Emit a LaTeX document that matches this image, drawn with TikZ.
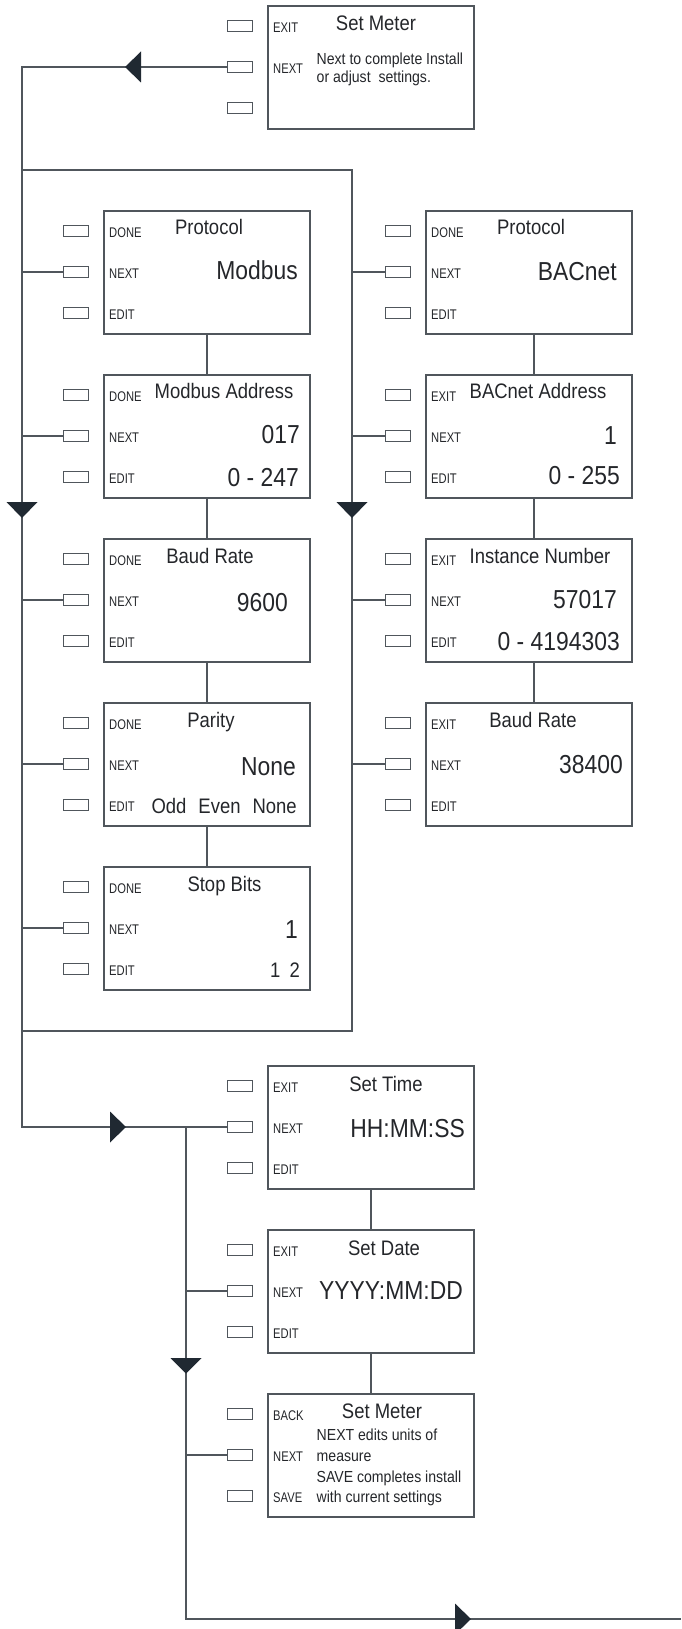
\documentclass[tikz,border=0pt]{standalone}
\usepackage{fontspec}
\setmainfont{Liberation Sans}[FakeStretch=0.88]
\newfontfamily\keyfont{Liberation Sans}[FakeStretch=0.8]
\usetikzlibrary{calc}

\definecolor{linegray}{RGB}{80,86,92}
\definecolor{arrowfill}{RGB}{32,41,50}
\definecolor{inkgray}{RGB}{36,38,42}

\tikzset{
  screen/.style={draw=linegray, line width=1.3pt, minimum width=206pt, minimum height=123pt, inner sep=0pt, outer sep=0pt},
  button/.style={draw=linegray, line width=1pt, minimum width=25pt, minimum height=11pt, inner sep=0pt, outer sep=0pt},
  keylabel/.style={anchor=base west, inner sep=0pt, text=inkgray, font=\keyfont\fontsize{14}{16}\selectfont},
  screentitle/.style={anchor=base, inner sep=0pt, text=inkgray, font=\fontsize{21}{25}\selectfont},
  bigvalue/.style={anchor=base east, inner sep=0pt, text=inkgray, font=\fontsize{26}{30}\selectfont},
  rangevalue/.style={anchor=base east, inner sep=0pt, text=inkgray, font=\fontsize{21}{25}\selectfont},
  note/.style={anchor=base west, inner sep=0pt, text=inkgray, font=\fontsize{16}{19}\selectfont},
  flow/.style={draw=linegray, line width=1.2pt},
  arrowhead/.style={fill=arrowfill}
}

% screen with its three keys: name, left, top, labels of the keys
\newcommand{\meterscreen}[6]{%
  \node[screen] (#1) at (#2+103,#3+61.5) {};
  \node[button] (#1-b1) at (#2-28.5,#3+20) {};
  \node[button] (#1-b2) at (#2-28.5,#3+61) {};
  \node[button] (#1-b3) at (#2-28.5,#3+102) {};
  \node[keylabel] (#1-k1) at (#2+5,#3+26.5) {#4};
  \node[keylabel] (#1-k2) at (#2+5,#3+67.5) {#5};
  \node[keylabel] (#1-k3) at (#2+5,#3+108.5) {#6};
}

\begin{document}
\begin{tikzpicture}[x=1pt, y=-1pt]
\def\xL{22}
\def\xR{352}
\def\xM{186}
\useasboundingbox (0,0) rectangle (681,1629);

% Set Meter (start)
\meterscreen{start}{268}{6}{EXIT}{NEXT}{}
\node[screentitle] (start-t) at ($(start.north west)+(108,25)$) {Set Meter};
\node[note] (start-n1) at ($(start.north west)+(48.5,59)$) {Next to complete Install};
\node[note] (start-n2) at ($(start.north west)+(48.5,77)$) {or adjust\ \ settings.};

% Modbus column
\meterscreen{pmod}{104}{211}{DONE}{NEXT}{EDIT}
\node[screentitle] (pmod-t) at ($(pmod.north west)+(105,24)$) {Protocol};
\node[bigvalue] (pmod-v) at ($(pmod.north west)+(194,68)$) {Modbus};

\meterscreen{maddr}{104}{375}{DONE}{NEXT}{EDIT}
\node[screentitle] (maddr-t) at ($(maddr.north west)+(120,23)$) {Modbus Address};
\node[bigvalue] (maddr-v) at ($(maddr.north west)+(196,68)$) {017};
\node[bigvalue] (maddr-r) at ($(maddr.north west)+(195,111)$) {0 - 247};

\meterscreen{mbaud}{104}{539}{DONE}{NEXT}{EDIT}
\node[screentitle] (mbaud-t) at ($(mbaud.north west)+(106,24)$) {Baud Rate};
\node[bigvalue] (mbaud-v) at ($(mbaud.north west)+(184,72)$) {9600};

\meterscreen{parity}{104}{703}{DONE}{NEXT}{EDIT}
\node[screentitle] (parity-t) at ($(parity.north west)+(107,24)$) {Parity};
\node[bigvalue] (parity-v) at ($(parity.north west)+(192,72)$) {None};
\node[rangevalue] (parity-r) at ($(parity.north west)+(193,110)$) {Odd\hspace{12pt}Even\hspace{12pt}None};

\meterscreen{stopb}{104}{867}{DONE}{NEXT}{EDIT}
\node[screentitle] (stopb-t) at ($(stopb.north west)+(120.5,24)$) {Stop Bits};
\node[bigvalue] (stopb-v) at ($(stopb.north west)+(194,71)$) {1};
\node[rangevalue] (stopb-r) at ($(stopb.north west)+(196,110)$) {1\hspace{9pt}2};

% BACnet column
\meterscreen{pbac}{426}{211}{DONE}{NEXT}{EDIT}
\node[screentitle] (pbac-t) at ($(pbac.north west)+(105,24)$) {Protocol};
\node[bigvalue] (pbac-v) at ($(pbac.north west)+(191,69)$) {BACnet};

\meterscreen{baddr}{426}{375}{EXIT}{NEXT}{EDIT}
\node[screentitle] (baddr-t) at ($(baddr.north west)+(112,23)$) {BACnet Address};
\node[bigvalue] (baddr-v) at ($(baddr.north west)+(191,69)$) {1};
\node[bigvalue] (baddr-r) at ($(baddr.north west)+(194,109)$) {0 - 255};

\meterscreen{inst}{426}{539}{EXIT}{NEXT}{EDIT}
\node[screentitle] (inst-t) at ($(inst.north west)+(114,24)$) {Instance Number};
\node[bigvalue] (inst-v) at ($(inst.north west)+(191,69)$) {57017};
\node[bigvalue] (inst-r) at ($(inst.north west)+(194,111)$) {0 - 4194303};

\meterscreen{bbaud}{426}{703}{EXIT}{NEXT}{EDIT}
\node[screentitle] (bbaud-t) at ($(bbaud.north west)+(107,24)$) {Baud Rate};
\node[bigvalue] (bbaud-v) at ($(bbaud.north west)+(197,70)$) {38400};

% Time, date, save
\meterscreen{time}{268}{1066}{EXIT}{NEXT}{EDIT}
\node[screentitle] (time-t) at ($(time.north west)+(118,25)$) {Set Time};
\node[bigvalue] (time-v) at ($(time.north west)+(197,71)$) {HH:MM:SS};

\meterscreen{date}{268}{1230}{EXIT}{NEXT}{EDIT}
\node[screentitle] (date-t) at ($(date.north west)+(116,25)$) {Set Date};
\node[bigvalue] (date-v) at ($(date.north west)+(195,69)$) {YYYY:MM:DD};

\meterscreen{save}{268}{1394}{BACK}{NEXT}{SAVE}
\node[screentitle] (save-t) at ($(save.north west)+(114,24)$) {Set Meter};
\node[note] (save-n1) at ($(save.north west)+(48.5,46)$) {NEXT edits units of};
\node[note] (save-n2) at ($(save.north west)+(48.5,67)$) {measure};
\node[note] (save-n3) at ($(save.north west)+(48.5,88)$) {SAVE completes install};
\node[note] (save-n4) at ($(save.north west)+(48.5,108)$) {with current settings};

% Trunk and frame
\coordinate (trunk-t) at (\xL,67);
\coordinate (trunk-b) at (\xL,1127);
\coordinate (frame-tl) at (\xL,170);
\coordinate (frame-tr) at (\xR,170);
\coordinate (frame-br) at (\xR,1031);
\coordinate (frame-bl) at (\xL,1031);
\coordinate (low-t) at (\xM,1127);
\coordinate (low-b) at (\xM,1619);
\coordinate (low-e) at (681,1619);

\draw[flow] (start-b2.west) -- (trunk-t) -- (trunk-b) -- (time-b2.west);
\draw[flow] (frame-tl) -- (frame-tr) -- (frame-br) -- (frame-bl);
\draw[flow] (low-t) -- (low-b) -- (low-e);

% NEXT keys to the lines
\draw[flow] (pmod-b2.west) -- (pmod-b2.west -| trunk-t);
\draw[flow] (maddr-b2.west) -- (maddr-b2.west -| trunk-t);
\draw[flow] (mbaud-b2.west) -- (mbaud-b2.west -| trunk-t);
\draw[flow] (parity-b2.west) -- (parity-b2.west -| trunk-t);
\draw[flow] (stopb-b2.west) -- (stopb-b2.west -| trunk-t);
\draw[flow] (pbac-b2.west) -- (pbac-b2.west -| frame-tr);
\draw[flow] (baddr-b2.west) -- (baddr-b2.west -| frame-tr);
\draw[flow] (inst-b2.west) -- (inst-b2.west -| frame-tr);
\draw[flow] (bbaud-b2.west) -- (bbaud-b2.west -| frame-tr);
\draw[flow] (date-b2.west) -- (date-b2.west -| low-t);
\draw[flow] (save-b2.west) -- (save-b2.west -| low-t);

% Screen to screen
\draw[flow] (pmod.south) -- (maddr.north);
\draw[flow] (maddr.south) -- (mbaud.north);
\draw[flow] (mbaud.south) -- (parity.north);
\draw[flow] (parity.south) -- (stopb.north);
\draw[flow] ($(pbac.south)+(5,0)$) -- ($(baddr.north)+(5,0)$);
\draw[flow] ($(baddr.south)+(5,0)$) -- ($(inst.north)+(5,0)$);
\draw[flow] ($(inst.south)+(5,0)$) -- ($(bbaud.north)+(5,0)$);
\draw[flow] (time.south) -- (date.north);
\draw[flow] (date.south) -- (save.north);

% Arrowheads
\fill[arrowhead] (125,67) -- (141,51.5) -- (141,82.5) -- cycle;
\fill[arrowhead] (\xL,518) -- (\xL-15.5,502) -- (\xL+15.5,502) -- cycle;
\fill[arrowhead] (\xR,518) -- (\xR-15.5,502) -- (\xR+15.5,502) -- cycle;
\fill[arrowhead] (126,1127) -- (110,1111.5) -- (110,1142.5) -- cycle;
\fill[arrowhead] (\xM,1373.5) -- (\xM-15.5,1358) -- (\xM+15.5,1358) -- cycle;
\fill[arrowhead] (471,1619) -- (455,1603.5) -- (455,1634.5) -- cycle;
\end{tikzpicture}
\end{document}
